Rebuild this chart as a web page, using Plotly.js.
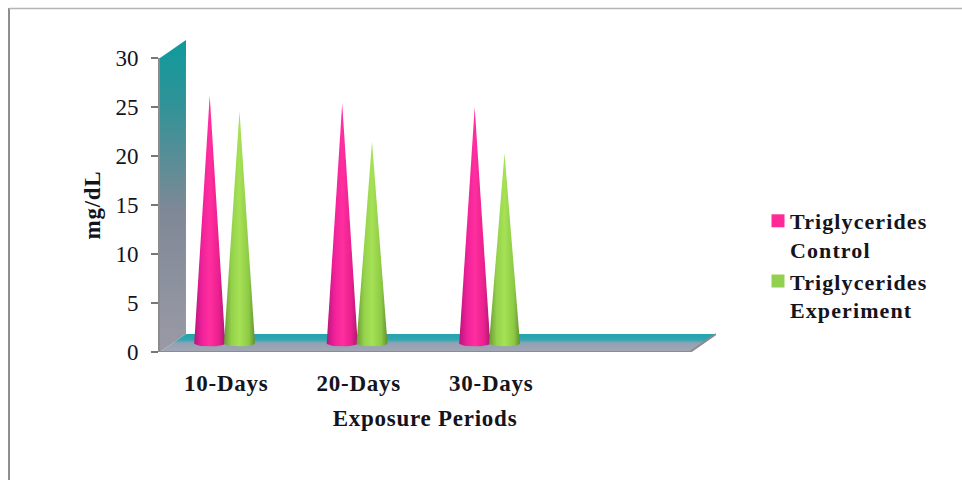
<!DOCTYPE html>
<html>
<head>
<meta charset="utf-8">
<script src="https://cdn.plot.ly/plotly-3.0.1.min.js"></script>
<style>
html,body{margin:0;padding:0;background:#fff}
#chart{width:962px;height:480px}
#chart .legendtext{letter-spacing:1.1px}
#chart .xtick text,#chart .xtitle,#chart .ytitle{letter-spacing:.75px}
#chart .legend .scrollbox{clip-path:none}
#chart .legend .legendsymbols{transform:translate(8px,0)}
</style>
</head>
<body>
<div id="chart"></div>
<script>
// Triglycerides (mg/dL) by exposure period
const categories = ['10-Days', '20-Days', '30-Days'];
const controlValues = [25.3, 24.5, 24.1];
const experimentValues = [23.7, 20.6, 19.4];
const controlName = 'Triglycerides<br>Control';
const experimentName = 'Triglycerides<br>Experiment';

const serif = '"Liberation Serif", "Times New Roman", serif';
const ink = '#14141c';
const slots = categories.length + 1;      // one empty slot on the right of the floor
const depthX = 0.196, depthY = 1.84;      // oblique depth of the walls
const coneBase = 0.87, coneRadius = 0.117, ellipseY = 0.3;

const pinkShade = [[0, '#b3177a'], [0.25, '#f0209a'], [0.5, '#ff2f9f'], [0.8, '#ea1f8f'], [1, '#a81a70']];
const greenShade = [[0, '#6c9a35'], [0.25, '#95d24c'], [0.5, '#a6e155'], [0.8, '#8dca45'], [1, '#62902f']];

// A cone seen from slightly above: two slanted sides and a rounded base
function cone(center, value, shade) {
  const xs = [center - coneRadius, center], ys = [coneBase, coneBase + value];
  xs.push(center + coneRadius); ys.push(coneBase);
  for (let k = 1; k < 16; k++) {
    const a = Math.PI * k / 16;
    xs.push(center + coneRadius * Math.cos(a));
    ys.push(coneBase - ellipseY * Math.sin(a));
  }
  xs.push(xs[0]); ys.push(ys[0]);
  return {
    type: 'scatter', mode: 'lines', xaxis: 'x2', yaxis: 'y2', x: xs, y: ys, fill: 'toself',
    fillgradient: {type: 'horizontal', colorscale: shade},
    line: {width: 0}, showlegend: false, hoverinfo: 'skip'
  };
}

function panel(xs, ys, scale) {
  return {
    type: 'scatter', mode: 'lines', xaxis: 'x2', yaxis: 'y2', x: xs, y: ys, fill: 'toself',
    fillgradient: {type: 'vertical', colorscale: scale},
    line: {width: 0}, showlegend: false, hoverinfo: 'skip'
  };
}

const left = -0.5, right = slots - 0.5, yTop = 30;

// The visible axes carry the legend entries; the oblique scene sits on a wider hidden pair
const traces = [
  {type: 'scatter', mode: 'markers', x: [null], y: [null], name: controlName,
   marker: {symbol: 'square', size: 13, color: '#ff2a96'}},
  {type: 'scatter', mode: 'markers', x: [null], y: [null], name: experimentName,
   marker: {symbol: 'square', size: 13, color: '#92d050'}},
  panel([left, left, left + depthX, left + depthX, left],
        [0, yTop, yTop + depthY, depthY, 0],
        [[0, '#9a9aa6'], [0.45, '#7f8896'], [0.8, '#2f9398'], [1, '#0f9a9c']]),
  panel([left, left + depthX, right + depthX, right, left],
        [0, depthY, depthY, 0, 0],
        [[0, '#a6a6b4'], [0.5, '#8fa2b4'], [0.68, '#2fa7b2'], [1, '#25a3ad']]),
  {type: 'scatter', mode: 'lines', xaxis: 'x2', yaxis: 'y2',
   x: [left, right, right + depthX], y: [0, 0, depthY],
   line: {color: '#8c8c8c', width: 2}, showlegend: false, hoverinfo: 'skip'}
];
categories.forEach((c, i) => {
  traces.push(cone(i - 0.125, controlValues[i], pinkShade));
  traces.push(cone(i + 0.1, experimentValues[i], greenShade));
});

const W = 962, H = 480;
const sceneL = 160, sceneR = 716, sceneT = 40, sceneB = 352;  // hidden axes' box
const plotR = 690, plotT = 58;                                // visible axes' box
const px = v => (v - sceneL) / (sceneR - sceneL);
const py = v => (sceneB - v) / (sceneB - sceneT);

const layout = {
  width: W, height: H, autosize: false,
  margin: {l: sceneL, r: W - sceneR, t: sceneT, b: H - sceneB, pad: 0},
  paper_bgcolor: '#fff', plot_bgcolor: 'rgba(0,0,0,0)',
  font: {family: serif, color: ink, size: 22},
  xaxis: {
    domain: [0, px(plotR)], range: [left, right], anchor: 'y',
    tickmode: 'array', tickvals: categories.map((c, i) => i), ticktext: categories,
    showgrid: false, zeroline: false, showline: false, ticks: '', ticklabelstandoff: 15,
    tickfont: {family: serif, size: 23, color: ink, weight: 'bold'},
    title: {text: '<b>Exposure Periods</b>', standoff: 14, font: {family: serif, size: 23, color: ink}}
  },
  yaxis: {
    domain: [0, py(plotT)], range: [0, yTop], dtick: 5, tick0: 0, anchor: 'x',
    showgrid: false, zeroline: false, showline: true, linecolor: '#8c8c8c', linewidth: 2,
    ticks: 'outside', ticklen: 7, tickwidth: 2, tickcolor: '#777', ticklabelstandoff: 8,
    tickfont: {family: serif, size: 23, color: ink},
    title: {text: '<b>mg/dL</b>', standoff: 8, font: {family: serif, size: 23, color: ink}}
  },
  xaxis2: {domain: [0, 1], range: [left, right + depthX], anchor: 'y2', visible: false},
  yaxis2: {domain: [0, 1], range: [0, yTop + depthY], anchor: 'x2', visible: false},
  legend: {
    x: px(759), y: py(200), xanchor: 'left', yanchor: 'top', valign: 'top', indentation: -9,
    font: {family: serif, size: 22, color: ink, weight: 'bold'},
    tracegroupgap: 0, itemclick: false, itemdoubleclick: false
  },
  shapes: [
    {type: 'line', xref: 'paper', yref: 'paper', x0: px(9), x1: px(9), y0: py(8), y1: py(480), line: {color: '#8e8e8e', width: 2}},
    {type: 'line', xref: 'paper', yref: 'paper', x0: px(9), x1: px(962), y0: py(8.5), y1: py(8.5), line: {color: '#b4b4b4', width: 1.5}}
  ]
};

Plotly.newPlot('chart', traces, layout, {displayModeBar: false, staticPlot: true});
</script>
</body>
</html>
